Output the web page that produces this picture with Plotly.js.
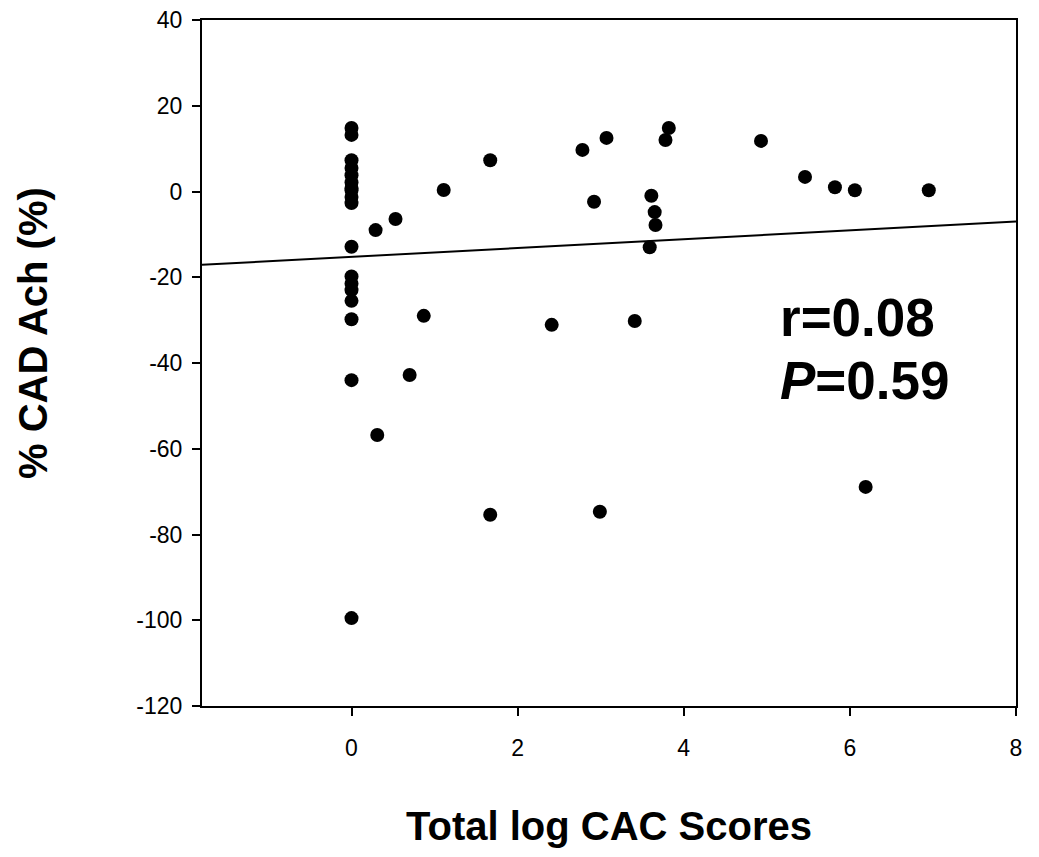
<!DOCTYPE html>
<html>
<head>
<meta charset="utf-8">
<script src="https://cdn.plot.ly/plotly-3.0.1.min.js"></script>
<style>html,body{margin:0;padding:0;background:#fff;}#chart{width:1039px;height:857px;}</style>
</head>
<body>
<div id="chart"></div>
<script>
// Scatter data: Total log CAC score vs % CAD Ach
var cacLog = [0, 0, 0, 0, 0, 0, 0, 0, 0, 0, 0, 0, 0, 0, 0, 0, 0, 0,
  0.29, 0.53, 1.11, 1.67, 0.87, 0.70, 0.31, 1.67,
  2.41, 2.78, 2.92, 3.07, 2.99, 3.41, 3.61, 3.65, 3.66, 3.59, 3.78, 3.82,
  4.93, 5.46, 5.82, 6.06, 6.95, 6.19];
var cadAch = [14.8, 13.2, 7.3, 5.5, 3.8, 2.1, 0.3, -1.3, -2.7, -12.9, -19.8, -21.5, -23.0, -25.5, -29.8, -44.0, -99.5, 0.8,
  -9.0, -6.4, 0.35, 7.3, -29.0, -42.8, -56.8, -75.4,
  -31.1, 9.7, -2.4, 12.5, -74.7, -30.2, -1.0, -4.8, -7.8, -13.0, 12.0, 14.8,
  11.8, 3.4, 1.0, 0.3, 0.3, -68.9];
// Regression line end points
var fitX = [-1.8, 8];
var fitY = [-17.1, -7.0];
// Tick labels
var xTickVals = [0, 2, 4, 6, 8];
var xTickText = ["0", "2", "4", "6", "8"];
var yTickVals = [-120, -100, -80, -60, -40, -20, 0, 20, 40];
var yTickText = ["-120", "-100", "-80", "-60", "-40", "-20", "0", "20", "40"];
var xTitle = "Total log CAC Scores";
var yTitle = "% CAD Ach (%)";
var statR = "r=0.08";
var statP = "<i>P</i>=0.59";

var fontFam = "Liberation Sans, Arial, sans-serif";
var traces = [
  {x: fitX, y: fitY, type: "scatter", mode: "lines",
   line: {color: "#000", width: 2}, hoverinfo: "skip"},
  {x: cacLog, y: cadAch, type: "scatter", mode: "markers",
   marker: {color: "#000", size: 14, symbol: "circle"}}
];
var layout = {
  width: 1039, height: 857,
  margin: {l: 202, r: 23, t: 20, b: 151},
  paper_bgcolor: "#fff", plot_bgcolor: "#fff",
  showlegend: false,
  font: {family: fontFam, color: "#000"},
  xaxis: {
    range: [-1.8, 8], tickvals: xTickVals, ticktext: xTickText,
    showgrid: false, zeroline: false, showline: true, mirror: true,
    linecolor: "#000", linewidth: 2, ticks: "outside", ticklen: 8, tickwidth: 2, tickcolor: "#000",
    tickfont: {size: 23, family: fontFam, color: "#000"}, ticklabelstandoff: 12,
    title: {text: "<b>" + xTitle + "</b>", font: {size: 40, family: fontFam, color: "#000"}, standoff: 52}
  },
  yaxis: {
    range: [-120, 40], tickvals: yTickVals, ticktext: yTickText,
    showgrid: false, zeroline: false, showline: true, mirror: true,
    linecolor: "#000", linewidth: 2, ticks: "outside", ticklen: 8, tickwidth: 2, tickcolor: "#000",
    tickfont: {size: 23, family: fontFam, color: "#000"}, ticklabelstandoff: 5
  },
  annotations: [
    {x: -0.2076, y: 0.5437, xref: "paper", yref: "paper", text: "<b>" + yTitle + "</b>", showarrow: false,
     textangle: -90, xanchor: "center", yanchor: "middle", font: {size: 40, family: fontFam, color: "#000"}},
    {x: 5.14, y: -29.3, xref: "x", yref: "y", text: "<b>" + statR + "</b>", showarrow: false,
     xanchor: "left", yanchor: "middle", font: {size: 53, family: fontFam, color: "#000"}},
    {x: 5.14, y: -44, xref: "x", yref: "y", text: "<b>" + statP + "</b>", showarrow: false,
     xanchor: "left", yanchor: "middle", font: {size: 53, family: fontFam, color: "#000"}}
  ]
};
Plotly.newPlot("chart", traces, layout, {displayModeBar: false, staticPlot: true});
</script>
</body>
</html>
